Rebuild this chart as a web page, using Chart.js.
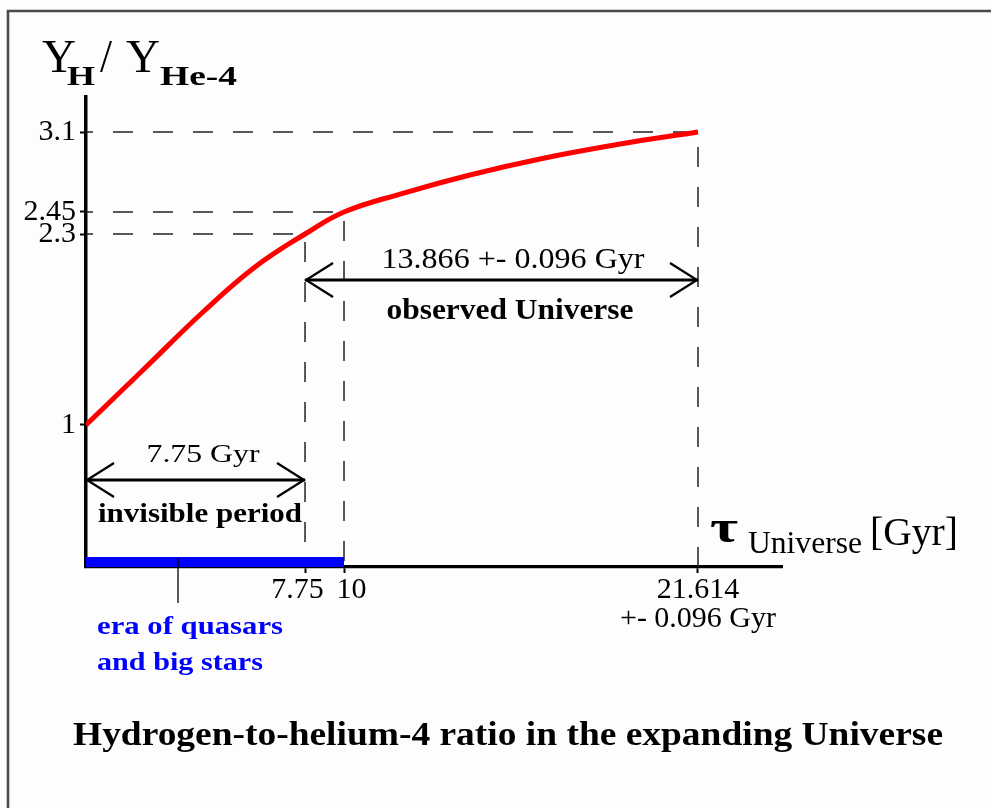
<!DOCTYPE html>
<html>
<head>
<meta charset="utf-8">
<title>Hydrogen-to-helium-4 ratio in the expanding Universe</title>
<script src="https://cdn.jsdelivr.net/npm/chart.js@4.4.1/dist/chart.umd.min.js"></script>
<style>
  html, body { margin: 0; padding: 0; background: #fdfdfd; }
  canvas { display: block; }
</style>
</head>
<body>
<canvas id="chart" width="991" height="808"></canvas>
<script>
// age of the Universe (Gyr) and the H / He-4 ratio
const ageGyr = [0, 2.09, 4.14, 5.98, 7.75, 10, 11.84, 14.13, 16.43, 19.06, 21.614];
const ratioHHe = [1, 1.388, 1.769, 2.075, 2.3, 2.45, 2.596, 2.751, 2.881, 3.002, 3.1];

// dashed guide lines: (age, ratio) marked on both axes
const guideAge = [7.75, 10, 21.614];
const guideRatio = [2.3, 2.45, 3.1];

// ticks
const xTickValues = [7.75, 10, 21.614];
const xTickLabels = ['7.75', '10', ['21.614', '+- 0.096 Gyr']];
const yTickValues = [1, 2.3, 2.45, 3.1];
const yTickLabels = ['1', '2.3', '2.45', '3.1'];

// spans shown with arrows / bar
const invisibleSpan = [0, 7.75];
const observedSpan = [7.75, 21.614];
const quasarEra = [0, 10];

// the drawing is schematic: axis values are not evenly spaced,
// so the axes map values piecewise between these knots
class PiecewiseScale extends Chart.LinearScale {
    static id = 'piecewise';
    static defaults = Chart.LinearScale.defaults;

    toDecimal(v) {
        const k = this.options.knots, f = this.options.fracs;
        for (let i = 1; i < k.length; i++) {
            if (v <= k[i] || i === k.length - 1) {
                return f[i - 1] + (v - k[i - 1]) / (k[i] - k[i - 1]) * (f[i] - f[i - 1]);
            }
        }
        return 0;
    }
    getPixelForValue(v) {
        if (v === null || v === undefined) return NaN;
        return this.getPixelForDecimal(this.toDecimal(v));
    }
    getValueForPixel(p) {
        const t = this.getDecimalForPixel(p);
        const k = this.options.knots, f = this.options.fracs;
        for (let i = 1; i < f.length; i++) {
            if (t <= f[i] || i === f.length - 1) {
                return k[i - 1] + (t - f[i - 1]) / (f[i] - f[i - 1]) * (k[i] - k[i - 1]);
            }
        }
        return 0;
    }
}
Chart.register(PiecewiseScale);

const serif = 'Liberation Serif';

function drawText(ctx, str, x, y, size, opts = {}) {
    ctx.save();
    ctx.font = (opts.bold ? 'bold ' : '') + size + 'px "' + serif + '"';
    ctx.fillStyle = opts.color || '#000';
    ctx.textBaseline = 'alphabetic';
    ctx.textAlign = opts.align || 'center';
    const w = ctx.measureText(str).width;
    const sx = opts.width ? opts.width / w : 1;
    ctx.translate(x, y);
    ctx.scale(sx, 1);
    ctx.fillText(str, 0, 0);
    ctx.restore();
}

function drawArrow(ctx, x1, x2, y) {
    ctx.save();
    ctx.strokeStyle = '#000';
    ctx.lineWidth = 3;
    ctx.beginPath();
    ctx.moveTo(x1, y);
    ctx.lineTo(x2, y);
    ctx.stroke();
    ctx.lineWidth = 2.2;
    ctx.beginPath();
    ctx.moveTo(x1 + 28, y - 17); ctx.lineTo(x1 + 1, y); ctx.lineTo(x1 + 28, y + 17);
    ctx.moveTo(x2 - 28, y - 17); ctx.lineTo(x2 - 1, y); ctx.lineTo(x2 - 28, y + 17);
    ctx.stroke();
    ctx.restore();
}

const annotations = {
    id: 'annotations',
    beforeDraw(chart) {
        const ctx = chart.ctx;
        // picture frame
        ctx.save();
        ctx.strokeStyle = '#4a4a4a';
        ctx.lineWidth = 2.6;
        ctx.beginPath();
        ctx.moveTo(8, 808);
        ctx.lineTo(8, 11);
        ctx.lineTo(991, 11);
        ctx.stroke();
        ctx.restore();
    },
    afterDraw(chart) {
        const ctx = chart.ctx;
        const xs = chart.scales.x;

        // axis titles
        drawText(ctx, 'Y', 42, 72, 46, { align: 'left', width: 34 });
        drawText(ctx, 'H', 67, 85, 27, { align: 'left', bold: true, width: 28 });
        drawText(ctx, '/', 100, 72, 46, { align: 'left', width: 12 });
        drawText(ctx, 'Y', 126, 72, 46, { align: 'left', width: 34 });
        drawText(ctx, 'He-4', 160, 85, 27, { align: 'left', bold: true, width: 77 });

        drawText(ctx, '\u03C4', 710, 542, 46, { align: 'left', bold: true, width: 28 });
        drawText(ctx, 'Universe', 748, 553, 31, { align: 'left', width: 114 });
        drawText(ctx, '[Gyr]', 870, 545, 40, { align: 'left', width: 88 });

        // arrows
        drawArrow(ctx, xs.getPixelForValue(invisibleSpan[0]), xs.getPixelForValue(invisibleSpan[1]), 480);
        drawText(ctx, '7.75 Gyr', 203, 462, 26, { width: 113 });
        drawText(ctx, 'invisible period', 200, 522, 28, { bold: true, width: 204 });

        drawArrow(ctx, xs.getPixelForValue(observedSpan[0]), xs.getPixelForValue(observedSpan[1]), 280);
        drawText(ctx, '13.866 +- 0.096 Gyr', 513, 268, 30, { width: 263 });
        drawText(ctx, 'observed Universe', 510, 319, 30, { bold: true, width: 247 });

        // leader from the blue era bar to its label
        ctx.save();
        ctx.strokeStyle = '#000';
        ctx.lineWidth = 1.3;
        ctx.beginPath();
        ctx.moveTo(178, 558);
        ctx.lineTo(178, 603);
        ctx.stroke();
        ctx.restore();
        drawText(ctx, 'era of quasars', 97, 634, 25, { align: 'left', bold: true, color: '#0000ff', width: 186 });
        drawText(ctx, 'and big stars', 97, 670, 25, { align: 'left', bold: true, color: '#0000ff', width: 166 });

        // caption
        drawText(ctx, 'Hydrogen-to-helium-4 ratio in the expanding Universe', 508, 745, 33, { bold: true, width: 870 });
    }
};

const curve = ageGyr.map((a, i) => ({ x: a, y: ratioHHe[i] }));

const guideSets = guideAge.map((a, i) => ({
    data: [{ x: 0, y: guideRatio[i] }, { x: a, y: guideRatio[i] }, { x: a, y: 0 }],
    borderColor: '#222',
    borderWidth: 1.5,
    borderDash: [20, 20],
    borderDashOffset: 13,
    pointRadius: 0,
    tension: 0
}));

new Chart(document.getElementById('chart'), {
    type: 'line',
    data: {
        datasets: [
            {
                data: curve,
                borderColor: '#ff0000',
                borderWidth: 5,
                pointRadius: 0,
                tension: 0.4
            },
            {
                data: quasarEra.map(a => ({ x: a, y: 0 })),
                borderColor: '#0000ff',
                borderWidth: 20,
                pointRadius: 0,
                clip: 0
            },
            ...guideSets
        ]
    },
    options: {
        responsive: false,
        devicePixelRatio: 1,
        animation: false,
        layout: { padding: { left: 0, top: 97, right: 209, bottom: 0 } },
        plugins: { legend: { display: false }, tooltip: { enabled: false } },
        scales: {
            x: {
                type: 'piecewise',
                min: 0,
                max: 25,
                knots: [0, 7.75, 10, 21.614, 25],
                fracs: [0, 0.3147, 0.3707, 0.8793, 1],
                z: 1,
                afterFit: s => { s.height = 241; },
                afterBuildTicks: s => { s.ticks = xTickValues.map(v => ({ value: v })); },
                border: { display: true, color: '#000', width: 3.3 },
                grid: { drawOnChartArea: false, drawTicks: true, tickLength: 6, tickWidth: 2, tickColor: '#000' },
                ticks: {
                    autoSkip: false,
                    maxRotation: 0,
                    padding: 3,
                    color: '#000',
                    font: { family: serif, size: 30, lineHeight: 0.95 },
                    callback: (v, i) => {
                        const l = xTickLabels[i];
                        if (i === 0) return l + '\u2002';
                        if (i === 1) return '\u2002' + l;
                        return l;
                    }
                }
            },
            y: {
                type: 'piecewise',
                min: 0,
                max: 3.4,
                knots: [0, 1, 2.3, 2.45, 3.1, 3.4],
                fracs: [0, 0.30213, 0.70851, 0.75532, 0.92553, 1],
                z: 1,
                afterFit: s => { s.width = 86; },
                afterBuildTicks: s => { s.ticks = yTickValues.map(v => ({ value: v })); },
                border: { display: true, color: '#000', width: 3.5 },
                grid: { drawOnChartArea: false, drawTicks: true, tickLength: 6, tickWidth: 2, tickColor: '#000' },
                ticks: {
                    autoSkip: false,
                    padding: 4,
                    color: '#000',
                    font: { family: serif, size: 30 },
                    callback: (v, i) => yTickLabels[i]
                }
            }
        }
    },
    plugins: [annotations]
});
</script>
</body>
</html>
